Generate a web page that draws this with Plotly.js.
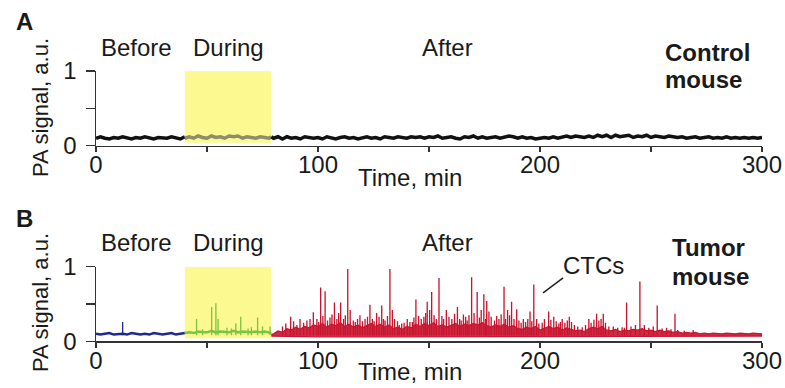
<!DOCTYPE html>
<html><head><meta charset="utf-8">
<script src="https://cdn.plot.ly/plotly-3.0.1.min.js"></script>
<style>html,body{margin:0;padding:0;background:#fff}#chart{width:785px;height:388px}</style>
</head><body><div id="chart"></div>
<script>
// ---------- data ----------
var beforeTimes = [0,2,4,6,8,10,12,14,16,18,20,22,24,26,28,30,32,34,36,38,40];
var duringTimes = [40,42,44,46,48,50,52,54,56,58,60,62,64,66,68,70,72,74,76,78,79];
var afterTimes = [79,80,82,84,86,88,90,92,94,96,98,
  100,102,104,106,108,110,112,114,116,118,120,122,124,126,128,130,132,134,136,138,
  140,142,144,146,148,150,152,154,156,158,160,162,164,166,168,170,172,174,176,178,
  180,182,184,186,188,190,192,194,196,198,
  200,202,204,206,208,210,212,214,216,218,220,222,224,226,228,230,232,234,236,238,
  240,242,244,246,248,250,252,254,256,258,260,262,264,266,268,270,272,274,276,278,
  280,282,284,286,288,290,292,294,296,298,300];

// Panel A (control mouse)
var ctrlBefore = [0.1,0.12,0.1,0.09,0.11,0.1,0.12,0.1,0.09,0.11,0.1,0.12,0.1,0.09,0.11,0.1,0.1,0.12,0.1,0.09,0.12];
var ctrlDuring = [0.1,0.12,0.1,0.13,0.11,0.1,0.13,0.11,0.12,0.1,0.13,0.12,0.13,0.1,0.12,0.11,0.1,0.12,0.11,0.1,0.12];
var ctrlAfter = [0.12,0.1,0.12,0.09,0.12,0.1,0.11,0.09,0.12,0.11,0.1,
  0.11,0.09,0.12,0.1,0.09,0.11,0.12,0.1,0.11,0.09,
  0.11,0.12,0.1,0.11,0.09,0.12,0.11,0.1,0.12,0.11,
  0.1,0.12,0.11,0.12,0.1,0.12,0.11,0.13,0.1,0.11,
  0.12,0.1,0.09,0.12,0.11,0.13,0.1,0.12,0.1,0.11,
  0.12,0.1,0.11,0.13,0.12,0.1,0.12,0.1,0.11,0.09,
  0.1,0.11,0.1,0.12,0.1,0.12,0.13,0.11,0.13,0.12,
  0.11,0.13,0.11,0.14,0.12,0.14,0.11,0.14,0.12,0.13,
  0.14,0.11,0.13,0.12,0.14,0.11,0.13,0.12,0.11,0.13,
  0.12,0.11,0.12,0.1,0.11,0.12,0.1,0.11,0.12,0.1,
  0.11,0.1,0.12,0.1,0.11,0.1,0.11,0.1,0.11,0.1,
  0.11];

// Panel B (tumor mouse)
var tumBefore = [0.1,0.09,0.1,0.11,0.09,0.1,0.1,0.09,0.11,0.1,0.09,0.1,0.09,0.11,0.1,0.09,0.1,0.11,0.09,0.1,0.11];
var tumBeforeSpikeT = [12];
var tumBeforeSpikeV = [0.26];
var tumDuring = [0.11,0.12,0.11,0.13,0.12,0.12,0.14,0.12,0.13,0.12,0.12,0.14,0.12,0.13,0.12,0.12,0.13,0.12,0.13,0.12,0.11];
var tumDuringSpikeT = [45.3,48,52.1,54,55,59,61,63,65.2,68.5,70,72.8,75,78.4];
var tumDuringSpikeV = [0.3,0.16,0.46,0.51,0.3,0.18,0.17,0.24,0.33,0.17,0.19,0.32,0.2,0.2];
var tumFloorT = [79,100,130,160,190,220,250,280,300];
var tumFloorV = [0.07,0.06,0.06,0.06,0.06,0.06,0.07,0.07,0.07];
var tumAfterBand = [0.09,0.1,0.14,0.12,0.17,0.15,0.19,0.16,0.2,0.18,0.22,
  0.2,0.24,0.19,0.23,0.21,0.25,0.2,0.23,0.19,0.22,
  0.18,0.21,0.24,0.2,0.23,0.19,0.22,0.17,0.19,0.16,
  0.2,0.18,0.23,0.2,0.24,0.21,0.25,0.2,0.22,0.19,
  0.21,0.24,0.2,0.23,0.21,0.24,0.22,0.25,0.21,0.19,
  0.22,0.2,0.23,0.19,0.21,0.17,0.16,0.19,0.17,0.2,
  0.15,0.18,0.2,0.17,0.19,0.15,0.18,0.16,0.14,0.15,
  0.13,0.17,0.19,0.17,0.2,0.15,0.14,0.16,0.13,0.15,
  0.14,0.16,0.15,0.17,0.14,0.15,0.13,0.15,0.13,0.14,
  0.12,0.13,0.11,0.12,0.11,0.12,0.1,0.11,0.1,0.11,
  0.1,0.1,0.11,0.1,0.1,0.11,0.1,0.1,0.11,0.1,
  0.1];
var tumAfterSpikeT = [84,85.5,87.7,89,90.5,91.9,93.5,95,96.4,97.9,99.5,100.3,101.2,102.2,103.2,104.3,105.4,106.3,107.4,108.5,109.3,110.2,111.5,112.3,113.4,114.5,115.9,116.8,117.8,118.9,120,121.2,122.3,123.4,124.5,125.3,126.4,127.5,128.7,129.5,130.2,131.3,132.4,133.5,134.5,135.8,136.6,137.7,138.8,140.2,141.4,142.5,143.2,144.1,145.3,146.5,147.7,148.5,149.2,150.3,151.2,152.3,153.3,154.5,155.8,156.6,157.8,159,160.3,161.5,162.8,163.8,164.5,165.5,166.5,167.2,168,169.2,170.3,171.7,172.7,173.5,174.7,175.5,176,177,178,179.5,180.5,181.5,182.5,183.8,184.5,185.4,186.3,187.2,188.3,189.5,190.5,191.5,192.5,193.5,194.5,195.5,196.3,197.2,198.5,199.5,201,202,203.9,204.9,206.2,207.3,208.5,209.2,210,211.2,212.3,213.2,214.2,215.5,217,219,220.5,222,223,224.3,225.5,226.5,227.5,228.5,229.5,231,233,235,237,238,239,241,243,245,247,249,251,252.8,255,257,259,260.8,262,265,269];
var tumAfterSpikeV = [0.2,0.24,0.33,0.27,0.22,0.3,0.25,0.28,0.3,0.39,0.3,0.26,0.72,0.34,0.67,0.28,0.32,0.36,0.52,0.3,0.38,0.52,0.3,0.35,0.97,0.42,0.28,0.26,0.3,0.35,0.27,0.3,0.33,0.49,0.3,0.27,0.38,0.33,0.48,0.3,0.28,0.34,0.97,0.42,0.3,0.27,0.22,0.24,0.25,0.3,0.26,0.26,0.32,0.56,0.34,0.3,0.33,0.38,0.53,0.42,0.66,0.35,0.3,0.85,0.34,0.3,0.42,0.33,0.3,0.37,0.46,0.3,0.28,0.36,0.33,0.28,0.35,0.86,0.38,0.66,0.32,0.42,0.63,0.3,0.54,0.4,0.33,0.28,0.34,0.3,0.36,0.73,0.3,0.42,0.35,0.53,0.3,0.43,0.28,0.25,0.3,0.26,0.3,0.4,0.27,0.76,0.3,0.24,0.25,0.3,0.4,0.29,0.33,0.27,0.24,0.26,0.3,0.25,0.28,0.33,0.26,0.22,0.2,0.19,0.22,0.3,0.25,0.29,0.37,0.28,0.3,0.37,0.25,0.2,0.2,0.18,0.19,0.18,0.52,0.2,0.22,0.8,0.22,0.18,0.2,0.48,0.17,0.18,0.16,0.37,0.15,0.14,0.15];

var xTickVals = [0,50,100,150,200,250,300];
var xTickText = ['0','','100','','200','','300'];
var yTickVals = [0,0.5,1];
var yTickText = ['0','','1'];

// ---------- styling ----------
var W = 785, H = 388;
var FONT = 'Liberation Sans, Arial, sans-serif';
var TXT = '#1a1a1a';
var AX = '#333333';
var RED = '#c9142f', BLUE = '#1d2a8c', GREEN = '#7cc443', YEL = '#fbf98f';
var BASE = 0.08;
function px(x){return x/W;}
function py(y){return 1 - y/H;}

function lineTr(x, y, color, w, xa, ya, extra){
  var t = {type:'scatter', mode:'lines', x:x, y:y, xaxis:xa, yaxis:ya,
    line:{color:color, width:w}, hoverinfo:'skip', showlegend:false};
  if (extra) for (var k in extra) t[k] = extra[k];
  return t;
}
function spikeTr(x, v, color, xa, ya){
  return {type:'bar', x:x, y:v.map(function(a){return a - BASE;}), base:BASE,
    width:0.6, xaxis:xa, yaxis:ya, marker:{color:color, line:{width:0}},
    hoverinfo:'skip', showlegend:false};
}

var traces = [
  lineTr(beforeTimes, ctrlBefore, '#111111', 3.5, 'x', 'y'),
  lineTr(duringTimes, ctrlDuring, '#8d8d6d', 3.5, 'x', 'y'),
  lineTr(afterTimes, ctrlAfter, '#111111', 3.5, 'x', 'y'),

  lineTr(beforeTimes, tumBefore, BLUE, 2.5, 'x2', 'y2'),
  spikeTr(tumBeforeSpikeT, tumBeforeSpikeV, BLUE, 'x2', 'y2'),
  lineTr(duringTimes, tumDuring, GREEN, 2.5, 'x2', 'y2'),
  spikeTr(tumDuringSpikeT, tumDuringSpikeV, GREEN, 'x2', 'y2'),
  lineTr(tumFloorT, tumFloorV, RED, 1.2, 'x2', 'y2'),
  lineTr(afterTimes, tumAfterBand, RED, 1.2, 'x2', 'y2', {fill:'tonexty', fillcolor:'rgba(201,20,47,0.9)'}),
  spikeTr(tumAfterSpikeT, tumAfterSpikeV, RED, 'x2', 'y2')
];

function xAxis(anchor){
  return {domain:[px(96), px(762)], anchor:anchor, range:[0,300], showgrid:false, zeroline:false,
    showline:true, linecolor:AX, linewidth:1.5, ticks:'outside', ticklen:5, tickwidth:1.5, tickcolor:AX,
    tickmode:'array', tickvals:xTickVals, ticktext:xTickText, ticklabelstandoff:-8,
    tickfont:{family:FONT, size:24, color:TXT}, fixedrange:true};
}
function yAxis(domain, anchor){
  return {domain:domain, anchor:anchor, range:[0,1], showgrid:false, zeroline:false,
    showline:true, linecolor:AX, linewidth:1.5, ticks:'outside', ticklen:9, tickwidth:1.5, tickcolor:AX,
    tickmode:'array', tickvals:yTickVals, ticktext:yTickText, ticklabelstandoff:4,
    tickfont:{family:FONT, size:24, color:TXT}, fixedrange:true};
}

function ann(text, x, y, opts){
  var a = {text:text, xref:'paper', yref:'paper', x:px(x), y:py(y), showarrow:false,
    xanchor:'center', yanchor:'middle', font:{family:FONT, size:24, color:TXT}};
  if (opts) for (var k in opts) a[k] = opts[k];
  return a;
}
var fBold = {family:FONT, size:24, color:TXT};
var fLetter = {family:FONT, size:24, color:TXT};
var fTitle = {family:FONT, size:22, color:TXT};

var annotations = [
  ann('<b>A</b>', 24, 21, {font:fLetter}),
  ann('Before', 136, 47), ann('During', 228, 47), ann('After', 447, 47),
  ann('<b>Control</b>', 663, 52.5, {xanchor:'left', font:fBold}),
  ann('<b>mouse</b>', 663, 80, {xanchor:'left', font:fBold}),
  ann('PA signal, a.u.', 40, 108, {textangle:-90, font:fTitle}),
  ann('Time, min', 410, 178),

  ann('<b>B</b>', 24, 218, {font:fLetter}),
  ann('Before', 136, 242), ann('During', 228, 242), ann('After', 447, 242),
  ann('<b>Tumor</b>', 670, 248, {xanchor:'left', font:fBold}),
  ann('<b>mouse</b>', 670, 276, {xanchor:'left', font:fBold}),
  ann('CTCs', 593, 265),
  ann('PA signal, a.u.', 40, 303, {textangle:-90, font:fTitle}),
  ann('Time, min', 410, 371)
];

var shapes = [
  {type:'rect', xref:'x', yref:'y', x0:40, x1:79, y0:0.04, y1:1, fillcolor:YEL, line:{width:0}, layer:'below'},
  {type:'rect', xref:'x2', yref:'y2', x0:40, x1:79, y0:0.04, y1:1, fillcolor:YEL, line:{width:0}, layer:'below'},
  {type:'line', xref:'x2', yref:'y2', x0:201.4, y0:0.65, x1:210.4, y1:0.85, line:{color:'#222', width:1.5}}
];

var layout = {
  width:W, height:H, autosize:false,
  margin:{l:0, r:0, t:0, b:0, pad:0},
  paper_bgcolor:'#ffffff', plot_bgcolor:'rgba(0,0,0,0)',
  showlegend:false, barmode:'overlay',
  font:{family:FONT, color:TXT},
  xaxis: xAxis('y'),
  yaxis: yAxis([py(145.7), py(71)], 'x'),
  xaxis2: xAxis('y2'),
  yaxis2: yAxis([py(341.3), py(266.7)], 'x2'),
  annotations: annotations,
  shapes: shapes
};

Plotly.newPlot('chart', traces, layout, {displayModeBar:false, staticPlot:true});
</script></body></html>
